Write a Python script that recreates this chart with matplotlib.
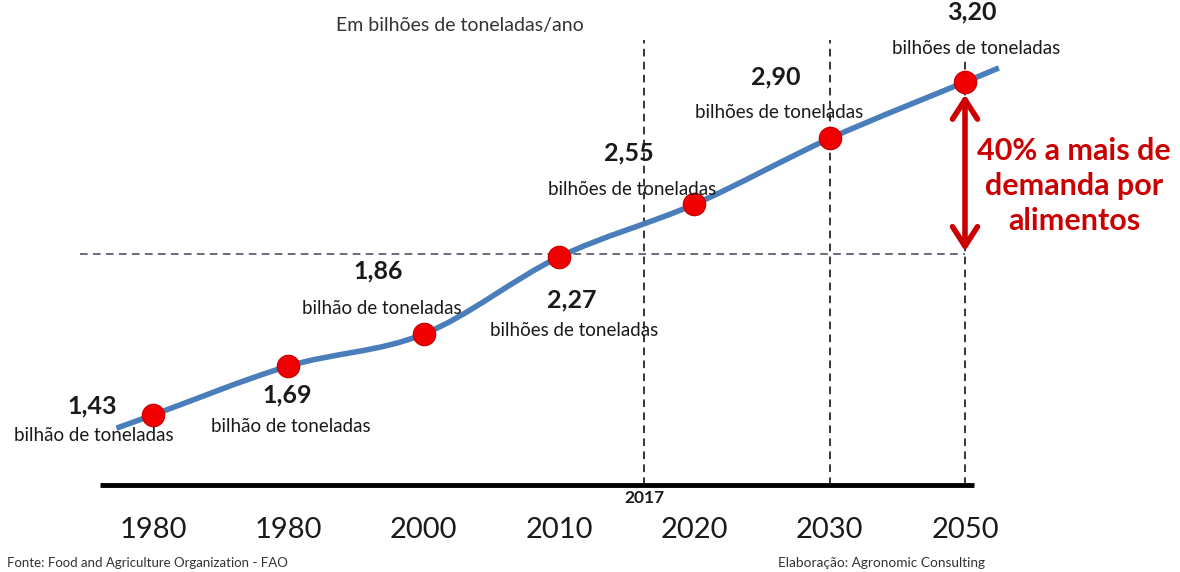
import numpy as np
import matplotlib.pyplot as plt
from matplotlib.path import Path
from matplotlib.patches import PathPatch

plt.rcParams['font.family'] = ['Lato', 'DejaVu Sans']

# Demanda mundial de alimentos (bilhões de toneladas/ano)
anos = ['1980', '1980', '2000', '2010', '2020', '2030', '2050']
demanda = [1.43, 1.69, 1.86, 2.27, 2.55, 2.90, 3.20]
unidades = ['bilhão de toneladas', 'bilhão de toneladas', 'bilhão de toneladas',
            'bilhões de toneladas', 'bilhões de toneladas', 'bilhões de toneladas',
            'bilhões de toneladas']
rotulos = [f'{v:.2f}'.replace('.', ',') for v in demanda]
aumento = 0.40          # 40% a mais de demanda em 2050
pos_2017 = 3.63         # posição do marco 2017 entre 2010 e 2020

# deslocamento dos rótulos em pixels (valor, unidade) em relação ao ponto
desl_valor = [(-61, 9), (-1, -29), (-45, 63), (13, -43), (-65, 51), (-54, 62), (7, 70)]
desl_unid = [(-59, -21), (2, -60), (-42, 26), (15, -74), (-62, 15), (-51, 26), (11, 34)]

W, H = 1180, 572
fig = plt.figure(figsize=(W / 100, H / 100), dpi=100)
ax = fig.add_axes([0, 0, 1, 1])
ax.axis('off')
ax.set_xlim(-1.1306, 7.5887)
ax.set_ylim(0.5953, 3.6363)

def fy(py):
    return 1 - py / H

x = np.arange(len(demanda))
y = np.array(demanda)
xt = ax.get_xaxis_transform()

# linhas de referência
nivel_2017 = demanda[-1] / (1 + aumento)
ax.plot([-0.54, 6], [nivel_2017, nivel_2017], color='#3a4656', lw=1.1,
        ls=(0, (5, 3.5)), zorder=1)
for xv, topo in [(pos_2017, 40), (5, 40), (6, 58)]:
    ax.plot([xv, xv], [fy(485), fy(topo)], transform=xt, color='black',
            lw=1.1, ls=(0, (5, 3.5)), zorder=1)

# eixo base
ax.plot([-0.39, 6.07], [fy(485), fy(485)], transform=xt, color='black',
        lw=3.5, solid_capstyle='butt', zorder=2)

# curva suavizada (Bezier pelo Catmull-Rom), com pequenas pontas além dos pontos
pts = np.column_stack([x, y]).astype(float)
ini = pts[0] - 0.27 * (pts[1] - pts[0])
fim = pts[-1] + 0.25 * (pts[-1] - pts[-2])
P = np.vstack([ini, pts, fim])
Pe = np.vstack([P[0], P, P[-1]])
verts = [P[0]]
codes = [Path.MOVETO]
for i in range(1, len(Pe) - 2):
    c1 = Pe[i] + (Pe[i + 1] - Pe[i - 1]) / 6
    c2 = Pe[i + 1] - (Pe[i + 2] - Pe[i]) / 6
    verts += [c1, c2, Pe[i + 1]]
    codes += [Path.CURVE4] * 3
ax.add_patch(PathPatch(Path(verts, codes), facecolor='none', edgecolor='#4a7ebb',
                       lw=4, capstyle='butt', zorder=3))

ax.plot(x, y, 'o', ms=16, color='#f00000', mec='#d00000', mew=1, zorder=4)

for i in range(len(demanda)):
    ax.annotate(rotulos[i], (x[i], y[i]), xytext=desl_valor[i],
                textcoords='offset pixels', ha='center', va='center',
                fontsize=18, fontweight='bold', color='#1a1a1a', zorder=5)
    ax.annotate(unidades[i], (x[i], y[i]), xytext=desl_unid[i],
                textcoords='offset pixels', ha='center', va='center',
                fontsize=13.5, color='#1a1a1a', zorder=5)

# seta de 40%
ax.annotate('', xy=(6, nivel_2017), xytext=(6, demanda[-1]),
            arrowprops=dict(arrowstyle='<->,head_length=0.7,head_width=0.45',
                            color='#cc0000', lw=4, shrinkA=9, shrinkB=2,
                            mutation_scale=20), zorder=4)
fig.text(1074 / W, fy(186), '40% a mais de\ndemanda por\nalimentos', ha='center',
         va='center', fontsize=22, fontweight='bold', color='#cc0000',
         linespacing=1.3)

# eixo de anos
for i, a in enumerate(anos):
    ax.text(i, fy(530), a, transform=xt, ha='center', va='center',
            fontsize=21, color='#1a1a1a')
ax.text(pos_2017, fy(498), '2017', transform=xt, ha='center', va='center',
        fontsize=12.5, fontweight='bold', color='#1a1a1a')

fig.text(460 / W, fy(26), 'Em bilhões de toneladas/ano', ha='center', va='center',
         fontsize=14, color='#333333')
fig.text(7 / W, fy(563), 'Fonte: Food and Agriculture Organization - FAO',
         ha='left', va='center', fontsize=9.5, color='#333333')
fig.text(778 / W, fy(563), 'Elaboração: Agronomic Consulting',
         ha='left', va='center', fontsize=9.8, color='#333333')

fig.savefig('out.png', dpi=100)
